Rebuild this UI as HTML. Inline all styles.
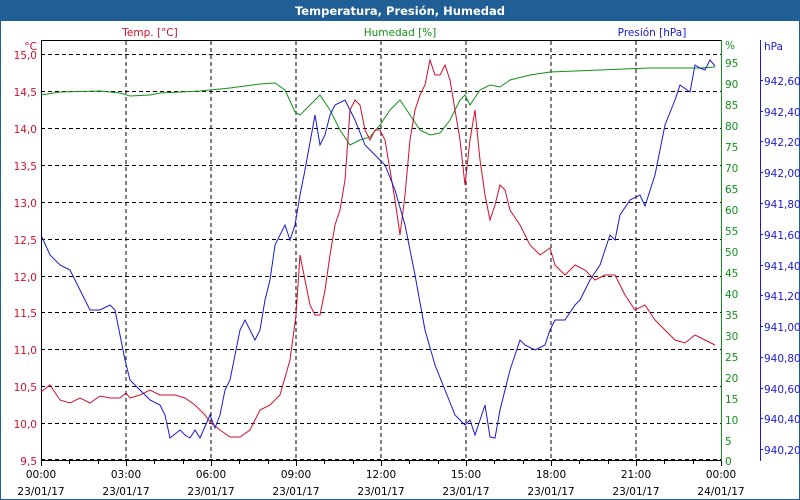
<!DOCTYPE html>
<html><head><style>
body{margin:0;background:#fff;}
svg{display:block;font-family:"DejaVu Sans","Liberation Sans",sans-serif;}
</style></head><body>
<svg width="800" height="500" viewBox="0 0 800 500" xmlns="http://www.w3.org/2000/svg">
<rect x="0" y="0" width="800" height="500" fill="#fff" stroke="#1f5f96" stroke-width="2"/>
<rect x="0" y="0" width="800" height="21" fill="#1f5f96"/>
<text x="400" y="15" font-size="11.5" font-weight="bold" fill="#fff" text-anchor="middle">Temperatura, Presión, Humedad</text>
<g font-size="10.5">
<text x="150" y="36" fill="#d0102a" text-anchor="middle">Temp. [°C]</text>
<text x="400" y="36" fill="#11901a" text-anchor="middle">Humedad [%]</text>
<text x="652" y="36" fill="#1a1ad0" text-anchor="middle">Presión [hPa]</text>
</g>
<g stroke="#000" stroke-dasharray="4,3" stroke-width="1">
<path d="M126 41V460M211 41V460M296 41V460M381 41V460M466 41V460M551 41V460M636 41V460"/>
<path d="M41 54.5H721M41 91.5H721M41 128.5H721M41 165.5H721M41 202.5H721M41 239.5H721M41 276.5H721M41 312.5H721M41 349.5H721M41 386.5H721M41 423.5H721M41 459.5H721"/>
</g>
<rect x="41.5" y="40.5" width="680" height="420" fill="none" stroke="#000"/>
<g stroke="#000"><path d="M69.5 460v4M98.5 460v4M126.5 460v6M154.5 460v4M183.5 460v4M211.5 460v6M239.5 460v4M268.5 460v4M296.5 460v6M324.5 460v4M353.5 460v4M381.5 460v6M409.5 460v4M438.5 460v4M466.5 460v6M494.5 460v4M523.5 460v4M551.5 460v6M579.5 460v4M608.5 460v4M636.5 460v6M664.5 460v4M693.5 460v4M41.5 460v6M721.5 460v6"/></g>
<g font-size="10.5" fill="#d0102a" text-anchor="end">
<text x="37" y="50">°C</text>
<text x="37" y="59">15,0</text><text x="37" y="96">14,5</text><text x="37" y="133">14,0</text><text x="37" y="170">13,5</text><text x="37" y="207">13,0</text><text x="37" y="244">12,5</text><text x="37" y="281">12,0</text><text x="37" y="317">11,5</text><text x="37" y="354">11,0</text><text x="37" y="391">10,5</text><text x="37" y="428">10,0</text><text x="37" y="465">9,5</text>
</g>
<line x1="721.5" y1="40" x2="721.5" y2="461" stroke="#11901a"/>
<g font-size="10.5" fill="#11901a">
<text x="725" y="49">%</text>
<text x="725" y="67">95</text><text x="725" y="88">90</text><text x="725" y="109">85</text><text x="725" y="130">80</text><text x="725" y="151">75</text><text x="725" y="172">70</text><text x="725" y="193">65</text><text x="725" y="214">60</text><text x="725" y="235">55</text><text x="725" y="256">50</text><text x="725" y="277">45</text><text x="725" y="298">40</text><text x="725" y="319">35</text><text x="725" y="340">30</text><text x="725" y="361">25</text><text x="725" y="382">20</text><text x="725" y="403">15</text><text x="725" y="424">10</text><text x="725" y="445">5</text><text x="725" y="465">0</text>
</g>
<line x1="760.5" y1="40" x2="760.5" y2="461" stroke="#1a1ad0"/>
<g stroke="#1a1ad0"><path d="M760 80.5h3M760 111.5h3M760 141.5h3M760 172.5h3M760 203.5h3M760 234.5h3M760 265.5h3M760 295.5h3M760 326.5h3M760 357.5h3M760 388.5h3M760 418.5h3M760 449.5h3"/></g>
<g font-size="10.5" fill="#1a1ad0">
<text x="764" y="50">hPa</text>
<text x="764" y="85">942,60</text><text x="764" y="116">942,40</text><text x="764" y="146">942,20</text><text x="764" y="177">942,00</text><text x="764" y="208">941,80</text><text x="764" y="239">941,60</text><text x="764" y="270">941,40</text><text x="764" y="300">941,20</text><text x="764" y="331">941,00</text><text x="764" y="362">940,80</text><text x="764" y="393">940,60</text><text x="764" y="423">940,40</text><text x="764" y="454">940,20</text>
</g>
<g font-size="10.5" fill="#000" text-anchor="middle">
<text x="41" y="478">00:00</text><text x="126" y="478">03:00</text><text x="211" y="478">06:00</text><text x="296" y="478">09:00</text><text x="381" y="478">12:00</text><text x="466" y="478">15:00</text><text x="551" y="478">18:00</text><text x="636" y="478">21:00</text><text x="721" y="478">00:00</text>
<text x="41" y="495">23/01/17</text><text x="126" y="495">23/01/17</text><text x="211" y="495">23/01/17</text><text x="296" y="495">23/01/17</text><text x="381" y="495">23/01/17</text><text x="466" y="495">23/01/17</text><text x="551" y="495">23/01/17</text><text x="636" y="495">23/01/17</text><text x="721" y="495">24/01/17</text>
</g>
<polyline fill="none" stroke="#11901a" stroke-width="1" points="41,95 60,92 100,91 120,93 130,96 150,95 160,93 200,91 230,88 260,84 275,83 285,90 295,112 300,115 310,105 320,95 330,110 340,130 350,145 360,140 370,137 380,125 390,110 400,100 410,115 420,130 430,135 440,133 450,120 460,100 465,95 470,105 480,90 490,85 500,87 510,80 530,75 550,72 600,70 650,68 700,68 715,67"/>
<polyline fill="none" stroke="#d0102a" stroke-width="1" points="41,392 50,385 60,400 70,403 80,398 90,403 100,396 110,398 120,398 126,393 130,398 140,395 150,390 160,395 175,395 185,398 195,405 205,415 211,423 220,430 230,437 240,437 250,430 260,410 270,405 280,395 290,360 296,315 300,255 305,280 310,305 315,315 320,315 325,290 330,255 335,225 340,210 345,180 350,110 355,100 360,105 365,130 370,140 375,130 380,130 385,140 390,170 395,200 400,235 405,195 410,140 415,110 420,95 425,85 430,60 435,75 440,75 445,65 450,80 455,110 460,140 465,185 470,140 475,110 480,160 485,195 490,220 495,205 500,185 505,190 510,210 520,225 530,245 540,255 550,248 555,265 560,270 565,275 575,265 585,270 595,280 605,275 615,275 625,295 635,310 645,305 655,320 665,330 675,340 685,343 695,335 705,340 715,345"/>
<polyline fill="none" stroke="#1a1ad0" stroke-width="1" points="41,235 50,255 60,265 70,270 80,290 90,310 100,310 110,305 115,310 125,360 130,380 140,390 150,400 160,405 165,415 170,438 180,430 185,435 190,438 195,430 200,438 210,415 215,428 220,415 225,390 230,380 240,330 245,320 255,340 260,330 265,300 270,280 275,245 285,225 290,240 295,225 300,195 305,170 315,115 320,145 325,135 330,115 335,105 345,100 350,110 355,120 365,145 375,155 385,165 395,190 405,225 415,275 425,330 435,365 445,390 455,415 465,425 470,420 475,435 480,420 485,405 490,437 495,438 500,410 510,370 520,340 525,345 535,350 545,345 550,330 555,320 565,320 575,305 580,300 590,280 600,265 610,235 615,240 620,215 630,200 640,195 645,206 655,175 665,125 675,100 680,85 690,92 695,65 700,68 705,70 710,60 715,66"/>
</svg>
</body></html>
